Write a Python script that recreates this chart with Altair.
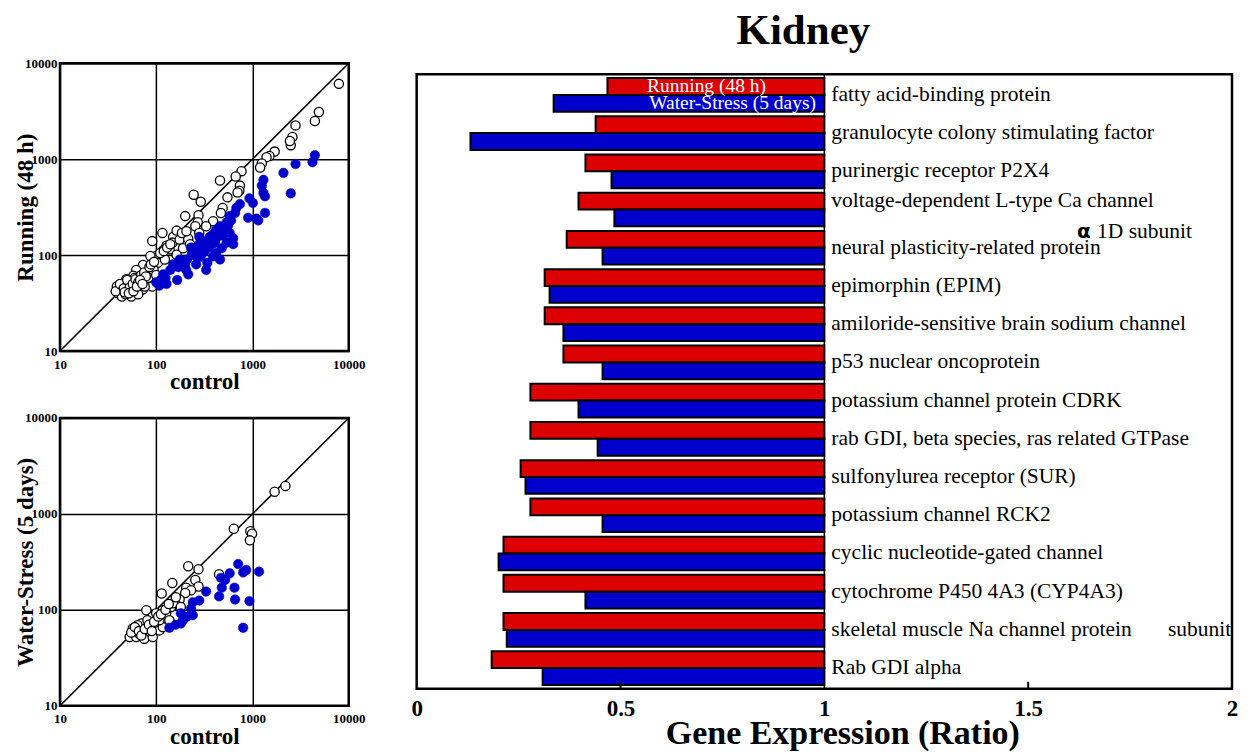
import altair as alt
import pandas as pd

SERIF = "Liberation Serif"
RED = "#DD0000"
BLUE = "#0000CC"

# ---------------- scatter 1 : Running (48 h) vs control ----------------
run_open_x = [7900, 4900, 4450, 2800, 2600, 2500, 2450, 1700, 1500, 1400, 1250, 1200,
              770, 670, 460, 740, 730, 700, 550, 490, 470, 245, 290, 200, 275, 270, 255,
              280, 390, 330, 116, 91, 150, 148, 175, 215, 128, 118, 100, 87, 104, 80, 73,
              67, 62, 58, 55, 49, 45, 42, 40, 44, 51, 62, 67, 80, 94, 73, 55, 48, 39, 38,
              53, 60, 70, 87, 83, 94, 49, 65, 91, 100, 76, 163, 185, 138, 163, 123, 190,
              225, 206, 42, 46, 50, 53, 57, 61, 65, 70, 75, 78, 85, 47, 52, 58, 63, 68,
              72, 88, 95, 110, 120, 130, 140]
run_open_y = [6100, 3100, 2500, 2250, 1700, 1400, 1550, 1200, 1080, 1050, 900, 820,
              750, 660, 600, 530, 470, 450, 400, 310, 275, 425, 360, 255, 260, 220, 200,
              170, 225, 200, 170, 140, 155, 135, 145, 148, 125, 112, 98, 98, 83, 70, 79,
              65, 70, 61, 53, 47, 49, 44, 40, 37, 42, 44, 49, 51, 56, 44, 37, 39, 47, 42,
              51, 58, 58, 65, 58, 70, 56, 39, 47, 62, 47, 180, 170, 115, 101, 90, 118,
              130, 177, 50, 45, 55, 46, 50, 56, 52, 62, 66, 60, 75, 41, 40, 42, 47, 55,
              50, 80, 85, 105, 110, 120, 130]
run_blue_x = [4450, 4200, 2800, 2100, 2500, 1300, 1250, 1300, 1350, 1350, 930, 1010,
              900, 1100, 1150, 740, 680, 660, 580, 540, 460, 420, 390, 360, 330, 280, 265,
              235, 210, 175, 150, 140, 118, 100, 108, 128, 165, 215, 330, 460, 630, 420,
              290, 205, 260, 340, 540, 630, 580, 480, 390, 300, 200, 280, 490, 410,
              300, 350, 380, 420, 450, 520, 560, 600, 250, 230, 320, 270, 190, 170,
              125, 112]
run_blue_y = [1100, 930, 890, 720, 440, 610, 530, 445, 410, 275, 390, 350,
              245, 240, 230, 340, 310, 275, 255, 220, 200, 185, 165, 155, 135, 130, 115,
              105, 90, 90, 80, 70, 63, 52, 48, 50, 55, 63, 70, 90, 130, 105,
              96, 70, 80, 83, 135, 150, 170, 118, 97, 105, 80, 155, 160, 135,
              140, 120, 130, 150, 170, 190, 205, 230, 100, 120, 110, 95, 85, 75,
              58, 55]

# ---------------- scatter 2 : Water-Stress (5 days) vs control ----------------
ws_open_x = [2200, 1700, 640, 950, 990, 940, 275, 215, 450, 255, 275, 205, 230, 200,
             147, 175, 160, 114, 143, 117, 79, 92, 100, 85, 72, 62, 57, 53, 62, 79, 108,
             117, 70, 81, 100, 127, 150, 160, 180, 67, 75, 92, 57, 64, 108, 137,
             55, 60, 66, 70, 76, 84, 90, 95, 105, 112, 125, 135]
ws_open_y = [1950, 1700, 700, 660, 620, 530, 265, 285, 235, 205, 175, 170, 160, 150,
             190, 128, 113, 148, 107, 99, 99, 85, 72, 66, 64, 61, 56, 52, 52, 56, 61,
             66, 72, 78, 92, 92, 117, 135, 107, 56, 50, 52, 64, 69, 78, 78,
             58, 66, 60, 54, 63, 70, 60, 75, 85, 90, 100, 115]
ws_blue_x = [710, 1170, 860, 800, 580, 470, 520, 480, 650, 450, 660, 930, 800, 330,
             280, 240, 230, 240, 180, 190, 160, 137, 180, 210]
ws_blue_y = [300, 250, 260, 245, 240, 215, 205, 170, 170, 138, 128, 123, 65, 155,
             125, 120, 103, 88, 92, 78, 70, 65, 72, 85]

axis_ticks = [10, 100, 1000, 10000]
diag = [10, 10000]

# ---------------- bar chart ----------------
genes = [
    "fatty acid-binding protein",
    "granulocyte colony stimulating factor",
    "purinergic receptor P2X4",
    "voltage-dependent L-type Ca channel",
    "neural plasticity-related protein",
    "epimorphin (EPIM)",
    "amiloride-sensitive brain sodium channel",
    "p53 nuclear oncoprotein",
    "potassium channel protein CDRK",
    "rab GDI, beta species, ras related GTPase",
    "sulfonylurea receptor (SUR)",
    "potassium channel RCK2",
    "cyclic nucleotide-gated channel",
    "cytochrome P450 4A3 (CYP4A3)",
    "skeletal muscle Na channel protein",
    "Rab GDI alpha",
]
running = [0.468, 0.439, 0.414, 0.397, 0.368, 0.314, 0.314, 0.360, 0.279, 0.279,
           0.255, 0.279, 0.213, 0.213, 0.213, 0.184]
water = [0.336, 0.132, 0.478, 0.485, 0.456, 0.326, 0.360, 0.456, 0.397, 0.444,
         0.267, 0.456, 0.201, 0.414, 0.221, 0.309]
series = ["Running (48 h)", "Water-Stress (5 days)"]
x_ticks = [0, 0.5, 1, 1.5, 2]
inner_ticks = [0.5, 1.5]
main_title = "Kidney"


def scatter(ox, oy, bx, by, ytitle, title_x):
    xs = alt.Scale(type="log", domain=[10, 10000], nice=False)
    ys = alt.Scale(type="log", domain=[10, 10000], nice=False)
    common = dict(values=axis_ticks, format="d", grid=True, gridColor="black",
                  gridWidth=1.5, gridOpacity=1, ticks=False, domain=False,
                  labelFont=SERIF, labelFontWeight="bold", labelFontSize=13,
                  labelColor="black", labelFlush=False, titleFont=SERIF,
                  titleFontSize=23, titleFontWeight="bold", titleColor="black")
    xaxis = alt.Axis(labelPadding=7, title="control", titlePadding=0, **common)
    yaxis = alt.Axis(labelPadding=3, title=ytitle, titleX=title_x,
                     titleBaseline="alphabetic", **common)
    dd = pd.DataFrame({"c": diag, "t": diag})
    do = pd.DataFrame({"c": ox, "t": oy})
    db = pd.DataFrame({"c": bx, "t": by})
    line = alt.Chart(dd).mark_line(color="black", strokeWidth=1.6).encode(
        x=alt.X("c:Q", scale=xs, axis=xaxis),
        y=alt.Y("t:Q", scale=ys, axis=yaxis),
    )
    opn = alt.Chart(do).mark_point(shape="circle", filled=True, fill="white",
                                   stroke="black", strokeWidth=1.3, size=85,
                                   opacity=1).encode(
        x=alt.X("c:Q", scale=xs), y=alt.Y("t:Q", scale=ys))
    blu = alt.Chart(db).mark_point(shape="circle", filled=True, fill=BLUE,
                                   stroke=BLUE, strokeWidth=0.5, size=92,
                                   opacity=1).encode(
        x=alt.X("c:Q", scale=xs), y=alt.Y("t:Q", scale=ys))
    return alt.layer(line, opn, blu).properties(width=289, height=288)


s1 = scatter(run_open_x, run_open_y, run_blue_x, run_blue_y, "Running (48 h)", -27)
s2 = scatter(ws_open_x, ws_open_y, ws_blue_x, ws_blue_y, "Water-Stress (5 days)", -27)

rows = []
for g, r, w in zip(genes, running, water):
    rows.append({"gene": g, "series": series[0], "value": r, "end": 1.0})
    rows.append({"gene": g, "series": series[1], "value": w, "end": 1.0})
bdf = pd.DataFrame(rows)

W, H = 816, 615
xsc = alt.Scale(domain=[0, 2], nice=False, zero=False)
ysc = alt.Scale(domain=genes, paddingInner=0.12, paddingOuter=0.1)
LBL = 21.5

bars = alt.Chart(bdf).mark_bar(stroke="black", strokeWidth=2, opacity=1).encode(
    x=alt.X("value:Q", scale=xsc,
            axis=alt.Axis(values=x_ticks, format="~g", grid=False, ticks=False,
                          domain=False, labelFont=SERIF, labelFontWeight="bold",
                          labelFontSize=23, labelColor="black", labelPadding=9,
                          labelFlush=False,
                          title="Gene Expression (Ratio)", titleFont=SERIF,
                          titleFontSize=34, titleFontWeight="bold",
                          titleColor="black", titleX=426, titleY=55,
                          titleBaseline="alphabetic")),
    x2="end:Q",
    y=alt.Y("gene:N", sort=genes, scale=ysc, axis=None),
    yOffset=alt.YOffset("series:N", sort=series,
                        scale=alt.Scale(paddingInner=0, paddingOuter=0)),
    color=alt.Color("series:N", scale=alt.Scale(domain=series, range=[RED, BLUE]),
                    legend=None),
)

vline = alt.Chart(pd.DataFrame({"v": [1.0]})).mark_rule(
    color="black", strokeWidth=1.5).encode(x=alt.X("v:Q", scale=xsc))

itick = alt.Chart(pd.DataFrame({"v": inner_ticks})).mark_rule(
    color="black", strokeWidth=2).encode(
    x=alt.X("v:Q", scale=xsc), y=alt.value(H - 7), y2=alt.value(H))

main_genes = [g for g in genes if g != "voltage-dependent L-type Ca channel"]
lab_df = pd.DataFrame({"gene": main_genes, "pos": [1.0] * len(main_genes)})
labels = alt.Chart(lab_df).mark_text(
    align="left", baseline="middle", dx=7, font=SERIF, fontSize=LBL,
    color="black").encode(
    x=alt.X("pos:Q", scale=xsc), y=alt.Y("gene:N", sort=genes, scale=ysc),
    text="gene:N")

lab_v = alt.Chart(pd.DataFrame({"gene": ["voltage-dependent L-type Ca channel"],
                                "pos": [1.0]})).mark_text(
    align="left", baseline="middle", dx=7, dy=-9, font=SERIF, fontSize=LBL,
    color="black").encode(
    x=alt.X("pos:Q", scale=xsc), y=alt.Y("gene:N", sort=genes, scale=ysc),
    text="gene:N")

alpha = alt.Chart(pd.DataFrame({"gene": ["neural plasticity-related protein"],
                                "pos": [1.62], "t": ["α"]})).mark_text(
    align="left", baseline="middle", dy=-16, font="DejaVu Sans", fontSize=20,
    fontWeight="bold", color="black").encode(
    x=alt.X("pos:Q", scale=xsc), y=alt.Y("gene:N", sort=genes, scale=ysc),
    text="t:N")

sub1 = alt.Chart(pd.DataFrame({"gene": ["neural plasticity-related protein"],
                               "pos": [1.669], "t": ["1D subunit"]})).mark_text(
    align="left", baseline="middle", dy=-16, font=SERIF, fontSize=LBL,
    color="black").encode(
    x=alt.X("pos:Q", scale=xsc), y=alt.Y("gene:N", sort=genes, scale=ysc),
    text="t:N")

sub2 = alt.Chart(pd.DataFrame({"gene": ["skeletal muscle Na channel protein"],
                               "pos": [1.843], "t": ["subunit"]})).mark_text(
    align="left", baseline="middle", font=SERIF, fontSize=LBL,
    color="black").encode(
    x=alt.X("pos:Q", scale=xsc), y=alt.Y("gene:N", sort=genes, scale=ysc),
    text="t:N")

leg_df = pd.DataFrame({"gene": [genes[0], genes[0]], "pos": [0.711, 0.775],
                       "t": series})
leg1 = alt.Chart(leg_df.iloc[[0]]).mark_text(
    align="center", baseline="middle", dy=-9, font=SERIF, fontSize=19.5,
    color="white").encode(
    x=alt.X("pos:Q", scale=xsc), y=alt.Y("gene:N", sort=genes, scale=ysc),
    text="t:N")
leg2 = alt.Chart(leg_df.iloc[[1]]).mark_text(
    align="center", baseline="middle", dy=8, font=SERIF, fontSize=19.5,
    color="white").encode(
    x=alt.X("pos:Q", scale=xsc), y=alt.Y("gene:N", sort=genes, scale=ysc),
    text="t:N")

bar = alt.layer(bars, vline, itick, labels, lab_v, alpha, sub1, sub2, leg1,
                leg2).properties(width=W, height=H)

# title strip above the bar panel (also sets the vertical offset of the bar panel)
head = alt.Chart(pd.DataFrame({"t": [main_title]})).mark_text(
    font=SERIF, fontSize=43, fontWeight="bold", color="black", align="center",
    baseline="middle").encode(
    text="t:N", x=alt.value(W / 2 - 21), y=alt.value(-32)
).properties(width=W, height=7, view=alt.ViewConfig(stroke="transparent"))

right = alt.vconcat(head, bar, spacing=0)
left = alt.vconcat(s1, s2, spacing=14)
chart = alt.hconcat(left, right, spacing=43).configure(
    background="white",
    view=alt.ViewConfig(stroke="black", strokeWidth=2.5),
).properties(padding={"left": 5, "top": 0, "right": 5, "bottom": 0})

chart.save("out.html", embed_options={"renderer": "svg", "actions": False})
